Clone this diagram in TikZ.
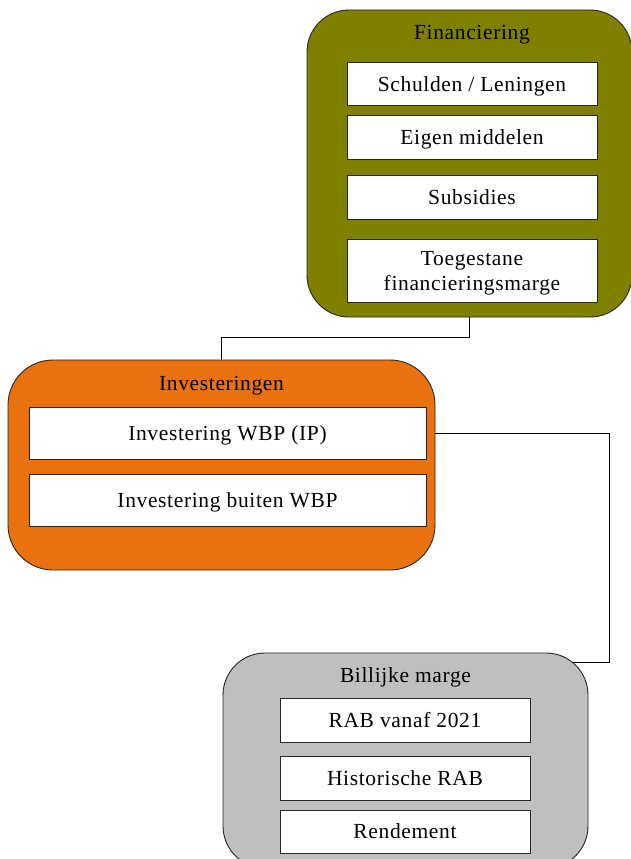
\documentclass[tikz,border=0pt]{standalone}
\usepackage{fontspec}
\setmainfont{Liberation Serif}[LetterSpace=3]
\usetikzlibrary{backgrounds,calc}
\definecolor{olivebox}{RGB}{128,128,0}
\definecolor{orangebox}{RGB}{233,113,16}
\definecolor{graybox}{RGB}{191,191,191}
\tikzset{
  group/.style={draw=black!85, line width=0.9pt, rounded corners=42pt, inner sep=0pt},
  item/.style={draw=black!85, fill=white, line width=0.8pt, inner sep=0pt, align=center,
    text height=14pt, text depth=0pt, font=\fontsize{21.5}{25}\selectfont},
  title/.style={inner sep=0pt, text height=14pt, text depth=0pt, font=\fontsize{21.5}{25}\selectfont},
  wire/.style={draw=black, line width=1pt}
}
\begin{document}
\begin{tikzpicture}[x=1pt,y=-1pt]
\useasboundingbox (0,0) rectangle (631,859);
% Financiering
\node[group, fill=olivebox, minimum width=325pt, minimum height=307pt] (fin) at (469.5,163.5) {};
\node[title] (fint) at (472,33) {Financiering};
\node[item, minimum width=250pt, minimum height=43pt] (f1) at (472,84) {Schulden / Leningen};
\node[item, minimum width=250pt, minimum height=44pt] (f2) at (472,137) {Eigen middelen};
\node[item, minimum width=250pt, minimum height=44pt] (f3) at (472,197) {Subsidies};
\node[item, minimum width=250pt, minimum height=63pt, text height=39pt] (f4) at (472,270.5) {Toegestane\\financieringsmarge};
% Investeringen
\node[group, fill=orangebox, minimum width=427pt, minimum height=210pt, rounded corners=45pt] (inv) at (221.5,465) {};
\node[title] (invt) at (221.5,383) {Investeringen};
\node[item, minimum width=397pt, minimum height=52pt] (i1) at (227.5,433) {Investering WBP (IP)};
\node[item, minimum width=397pt, minimum height=52pt] (i2) at (227.5,500) {Investering buiten WBP};
% Billijke marge
\node[group, fill=graybox, minimum width=365pt, minimum height=215pt] (bil) at (405.5,760.5) {};
\node[title] (bilt) at (405.5,675) {Billijke marge};
\node[item, minimum width=250pt, minimum height=44pt] (b1) at (405,720) {RAB vanaf 2021};
\node[item, minimum width=250pt, minimum height=44pt] (b2) at (405,778) {Historische RAB};
\node[item, minimum width=250pt, minimum height=43pt] (b3) at (405,831.5) {Rendement};
% connectors
\begin{scope}[on background layer]
\draw[wire] (fin.south) -- ++(0,20) -| (inv.north);
\coordinate (turn) at (609,0);
\draw[wire] (i1.east) -- (i1.east -| turn) |- ($(bil.north)+(0,10)$);
\end{scope}
\end{tikzpicture}
\end{document}
